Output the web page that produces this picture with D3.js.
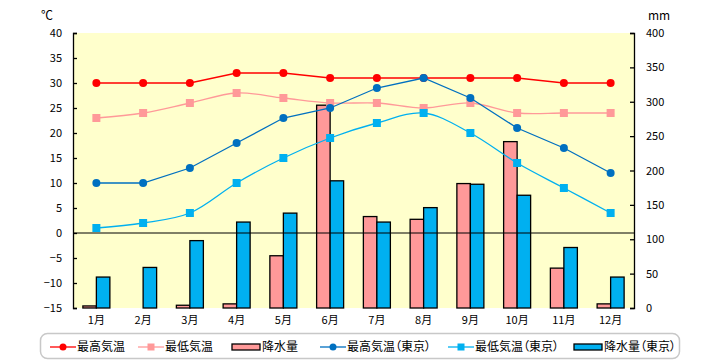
<!DOCTYPE html>
<html><head><meta charset="utf-8">
<script src="https://cdn.jsdelivr.net/npm/d3@7/dist/d3.min.js"></script>
<style>body{margin:0;background:#fff;}svg{display:block;} .palt{font-feature-settings:"palt";}</style>
</head><body>
<svg id="c" width="720" height="360"></svg>
<script>
const months = ["1月","2月","3月","4月","5月","6月","7月","8月","9月","10月","11月","12月"];
const maxTemp = [30,30,30,32,32,31,31,31,31,31,30,30];
const minTemp = [23,24,26,28,27,26,26,25,26,24,24,24];
const precip = [3,0,4,6,76,295,133,129,181,242,58,6];
const maxTempTokyo = [10,10,13,18,23,25,29,31,27,21,17,12];
const minTempTokyo = [1,2,4,10,15,19,22,24,20,14,9,4];
const precipTokyo = [45,59,98,125,138,185,125,146,180,164,88,45];
const leftTicks = [40,35,30,25,20,15,10,5,0,-5,-10,-15];
const rightTicks = [400,350,300,250,200,150,100,50,0];
const legendLabels = ["最高気温","最低気温","降水量","最高気温（東京）","最低気温（東京）","降水量（東京）"];

const svg = d3.select("#c");
const FONT = "'Noto Sans CJK JP','DejaVu Sans',sans-serif";
const L=73, R=634, T=33, B=308;

const x = d3.scaleBand().domain(months).range([L,R]).padding(0);
const yL = d3.scaleLinear().domain([-15,40]).range([B,T]);
const yR = d3.scaleLinear().domain([0,400]).range([B,T]);
const bw = x.bandwidth();
const x1 = d3.scaleBand().domain([0,1]).range([bw/2-13.5, bw/2+13.5]);

svg.append("rect").attr("x",L).attr("y",T).attr("width",R-L).attr("height",B-T).attr("fill","#FFFFCC");

// bars
const series = [{v:precip,c:"#FF9999",i:0},{v:precipTokyo,c:"#00B0F0",i:1}];
series.forEach(s=>{
  svg.append("g").selectAll("rect").data(s.v).join("rect")
    .attr("x",(d,i)=>x(months[i])+x1(s.i))
    .attr("y",d=>yR(d))
    .attr("width",x1.bandwidth())
    .attr("height",d=>yR(0)-yR(d))
    .attr("fill",s.c).attr("stroke",d=>d>0?"#000":"none").attr("stroke-width",1.3);
});

// zero line
svg.append("line").attr("x1",L).attr("x2",R).attr("y1",yL(0)).attr("y2",yL(0)).attr("stroke","#000").attr("stroke-width",1);

// axes
const axL = d3.axisLeft(yL).tickValues(leftTicks).tickSize(-4).tickPadding(11).tickFormat(d=>d<0?"\u2212"+Math.abs(d):d);
const gL = svg.append("g").attr("transform",`translate(${L},0)`).call(axL);
const axR = d3.axisRight(yR).tickValues(rightTicks).tickSize(-4).tickPadding(12);
const gR = svg.append("g").attr("transform",`translate(${R},0)`).call(axR);
[gL,gR].forEach(g=>{
  g.select(".domain").attr("stroke","#000").attr("stroke-width",1.3);
  g.selectAll(".tick line").attr("stroke","#000").attr("stroke-width",1.3);
  g.selectAll("text").attr("font-family",FONT).attr("font-size",11).attr("fill","#000");
});
const axB = d3.axisBottom(x).tickSize(0).tickPadding(8);
const gB = svg.append("g").attr("transform",`translate(0,${B})`).call(axB);
gB.select(".domain").remove();
gB.selectAll("text").attr("font-family",FONT).attr("font-size",11).attr("fill","#000");

svg.append("text").attr("x",41).attr("y",20).text("℃").attr("font-family",FONT).attr("font-size",12);
svg.append("text").attr("x",648).attr("y",20).text("mm").attr("font-family",FONT).attr("font-size",12);

// lines
const cx = (d,i)=>x(months[i])+bw/2;
const lines = [
  {v:maxTemp,c:"#FF0000",m:"circle",curve:d3.curveLinear},
  {v:minTemp,c:"#FF9999",m:"square",curve:d3.curveCatmullRom.alpha(0.5)},
  {v:maxTempTokyo,c:"#0070C0",m:"circle",curve:d3.curveLinear},
  {v:minTempTokyo,c:"#00B0F0",m:"square",curve:d3.curveCatmullRom.alpha(0.5)}
];
lines.forEach(s=>{
  const line = d3.line().x(cx).y(d=>yL(d)).curve(s.curve);
  svg.append("path").datum(s.v).attr("d",line).attr("fill","none").attr("stroke",s.c).attr("stroke-width",1.3);
  const g = svg.append("g");
  if(s.m==="circle"){
    g.selectAll("circle").data(s.v).join("circle").attr("cx",cx).attr("cy",d=>yL(d)).attr("r",4).attr("fill",s.c);
  } else {
    g.selectAll("rect").data(s.v).join("rect").attr("x",(d,i)=>cx(d,i)-4).attr("y",d=>yL(d)-4).attr("width",8).attr("height",8).attr("fill",s.c);
  }
});

// legend
const lg = svg.append("g");
lg.append("rect").attr("x",40.5).attr("y",333.5).attr("width",639).attr("height",25).attr("rx",7)
  .attr("fill","#fff").attr("stroke","#C8C8C8").attr("stroke-width",1.5);
const legItems = [
  {t:legendLabels[0],type:"line",c:"#FF0000",m:"circle",x:50},
  {t:legendLabels[1],type:"line",c:"#FF9999",m:"square",x:138},
  {t:legendLabels[2],type:"bar",c:"#FF9999",x:232},
  {t:legendLabels[3],type:"line",c:"#0070C0",m:"circle",x:320},
  {t:legendLabels[4],type:"line",c:"#00B0F0",m:"square",x:448},
  {t:legendLabels[5],type:"bar",c:"#00B0F0",x:574}
];
const ly = 347;
legItems.forEach(it=>{
  const g = lg.append("g");
  if(it.type==="line"){
    g.append("line").attr("x1",it.x).attr("x2",it.x+26).attr("y1",ly).attr("y2",ly).attr("stroke",it.c).attr("stroke-width",1.3);
    if(it.m==="circle") g.append("circle").attr("cx",it.x+13).attr("cy",ly).attr("r",3.5).attr("fill",it.c);
    else g.append("rect").attr("x",it.x+9.5).attr("y",ly-3.5).attr("width",7).attr("height",7).attr("fill",it.c);
    g.append("text").attr("class","palt").attr("x",it.x+27).attr("y",ly).attr("dy","0.36em").text(it.t).attr("font-family",FONT).attr("font-size",12);
  } else {
    g.append("rect").attr("x",it.x).attr("y",ly-3).attr("width",28).attr("height",6).attr("fill",it.c).attr("stroke","#000").attr("stroke-width",1.3);
    g.append("text").attr("class","palt").attr("x",it.x+30).attr("y",ly).attr("dy","0.36em").text(it.t).attr("font-family",FONT).attr("font-size",12);
  }
});
</script>
</body></html>
